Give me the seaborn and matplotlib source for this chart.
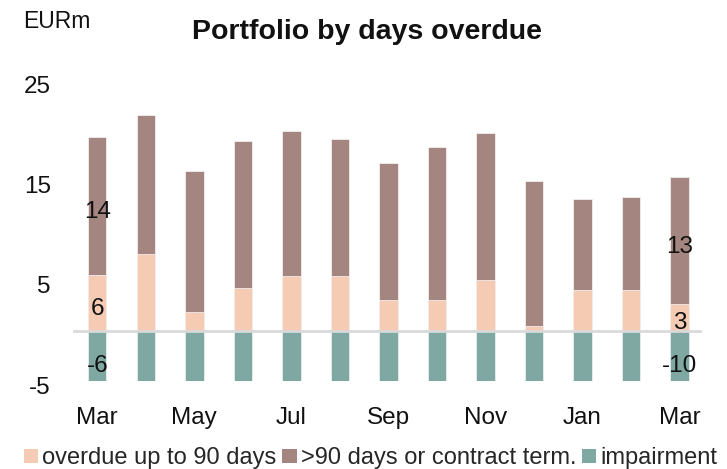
import matplotlib
matplotlib.use("Agg")
import matplotlib.pyplot as plt
import matplotlib.transforms as mtransforms
from matplotlib.patches import Patch
import numpy as np
import pandas as pd
import seaborn as sns

months = ["Mar", "Apr", "May", "Jun", "Jul", "Aug", "Sep", "Oct", "Nov", "Dec", "Jan", "Feb", "Mar"]
overdue_90 = [5.6, 7.7, 1.9, 4.3, 5.5, 5.5, 3.1, 3.1, 5.1, 0.5, 4.1, 4.1, 2.7]
over_90 = [13.7, 13.8, 14.0, 14.6, 14.4, 13.6, 13.6, 15.2, 14.6, 14.4, 9.0, 9.2, 12.6]
impairment = [-6, -6, -6, -7, -7, -7, -8, -8, -8, -9, -9, -10, -10]
y_ticks = [-5, 5, 15, 25]

c_over = "#F5CBB3"
c_90 = "#A58580"
c_imp = "#7FA8A3"

sns.set_theme(style="white")
plt.rcParams["font.family"] = ["Liberation Sans", "DejaVu Sans"]

idx = list(range(len(months)))
df = pd.DataFrame({"i": idx, "overdue": overdue_90, "over90": over_90, "imp": impairment})
df["total"] = df["overdue"] + df["over90"]

fig = plt.figure(figsize=(7.27, 4.69), dpi=100)
ax = fig.add_axes([73 / 727, (469 - 381) / 469, (702 - 73) / 727, (381 - 80) / 469])

w = 0.38
sns.barplot(data=df, x="i", y="total", color=c_90, width=w, saturation=1, ax=ax,
            edgecolor="#f2eeee", linewidth=0.6)
sns.barplot(data=df, x="i", y="overdue", color=c_over, width=w, saturation=1, ax=ax,
            edgecolor="#f2eeee", linewidth=0.6)
sns.barplot(data=df, x="i", y="imp", color=c_imp, width=w, saturation=1, ax=ax,
            edgecolor="#e6eeee", linewidth=0.6)

ax.axhline(0, color="#d9d9d9", lw=2, zorder=5)

ymin, ymax = -5, 25
ax.set_ylim(ymin, ymax)
ax.set_xlim(-0.5, 12.46)
ax.set_yticks(y_ticks)
ax.set_yticklabels([str(t) for t in y_ticks])
ax.set_xticks(idx[::2])
ax.set_xticklabels(months[::2])
ax.set_xlabel("")
ax.set_ylabel("")
for s in ax.spines.values():
    s.set_visible(False)
ax.tick_params(axis="y", length=0, pad=16, labelsize=17.5, colors="#111111")
ax.tick_params(axis="x", length=0, pad=19, labelsize=17.5, colors="#111111")

off = mtransforms.ScaledTranslation(0, -3 / 72, fig.dpi_scale_trans)
for lab in ax.get_yticklabels():
    lab.set_transform(lab.get_transform() + off)

# data labels on first and last bars
dy = -0.6
for i in [0, len(months) - 1]:
    o = overdue_90[i]
    n = over_90[i]
    m = impairment[i]
    ax.text(i, o / 2 + dy, f"{o:.0f}", ha="center", va="center", fontsize=17.5, color="#111111", zorder=6)
    ax.text(i, o + n / 2 + dy, f"{n:.0f}", ha="center", va="center", fontsize=17.5, color="#111111", zorder=6)
    vis = max(m, ymin)
    ax.text(i, vis / 2 - 1.0, f"{m:.0f}", ha="center", va="center", fontsize=17.5, color="#111111", zorder=6)

fig.text(23 / 727, 1 - 22 / 469, "EURm", ha="left", va="center", fontsize=16.5, color="#111111")
fig.text(367.5 / 727, 1 - 32 / 469, "Portfolio by days overdue", ha="center", va="center",
         fontsize=20.5, fontweight="bold", color="#111111")

handles = [Patch(facecolor=c_over, edgecolor="none"),
           Patch(facecolor=c_90, edgecolor="none"),
           Patch(facecolor=c_imp, edgecolor="none")]
labels = ["overdue up to 90 days", ">90 days or contract term.", "impairment"]
fig.legend(handles, labels, loc="center", bbox_to_anchor=(370.5 / 727, 1 - 458 / 469), ncol=3,
           frameon=False, fontsize=17, handlelength=0.62, handleheight=0.55, handletextpad=0.18,
           columnspacing=0.22, borderaxespad=0, borderpad=0)

fig.savefig("out.png", dpi=100)
